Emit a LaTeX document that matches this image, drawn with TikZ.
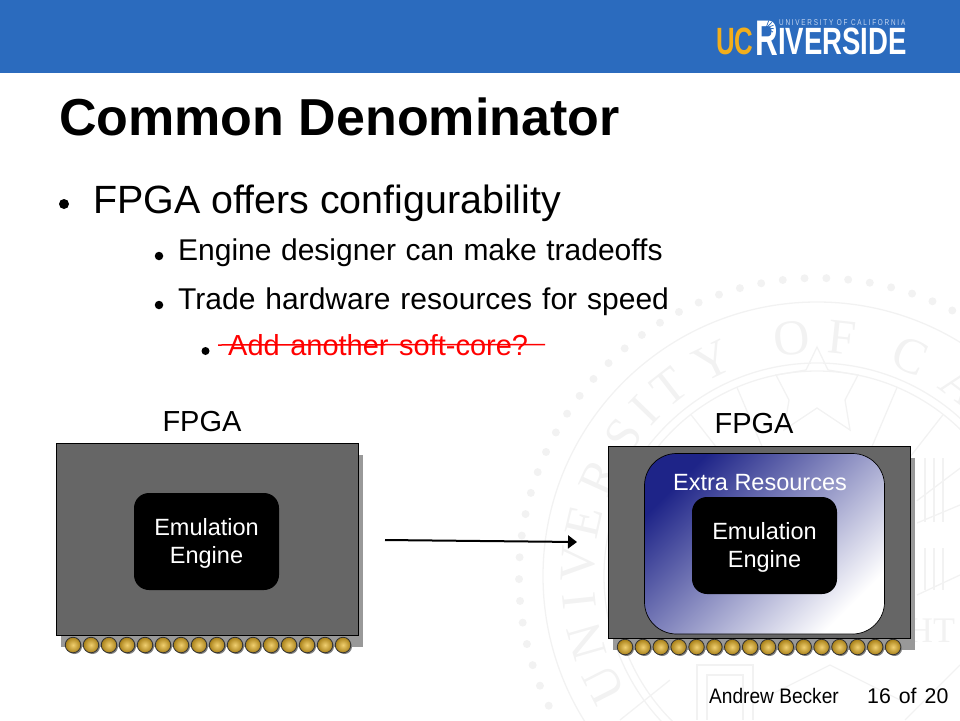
\documentclass[tikz,border=0pt]{standalone}
\usepackage{fontspec}
\setmainfont{Liberation Sans}
\newfontfamily\sealfont{Liberation Serif}
\usetikzlibrary{arrows.meta}
\definecolor{headblue}{HTML}{2B6BBE}
\definecolor{chipgray}{HTML}{666666}
\definecolor{shadowgray}{HTML}{999999}
\definecolor{pinlight}{HTML}{F0CF70}
\definecolor{pindark}{HTML}{A88018}
\definecolor{logogold}{HTML}{F2AE1C}
\definecolor{logopale}{HTML}{C5D6F0}
\definecolor{sealgray}{HTML}{F2F2F2}
\definecolor{extrablue}{HTML}{1E2488}
\newcommand\topgap{\rule{0pt}{21pt}}
\newcommand\widewords{\spaceskip=9.5pt\relax}
\tikzset{
	txt/.style={anchor=base west,inner sep=0pt,font=\fontsize{#1}{#1}\selectfont},
	mid/.style={anchor=base,inner sep=0pt,font=\fontsize{#1}{#1}\selectfont},
	chipbody/.style={draw=black,line width=1pt,fill=chipgray,minimum width=302pt,minimum height=191.5pt,inner sep=0pt},
	chipshadow/.style={fill=shadowgray,minimum width=302pt,minimum height=191.5pt,inner sep=0pt},
	engine/.style={fill=black,rounded corners=15pt,minimum width=145pt,minimum height=97pt,inner sep=0pt,text=white,align=center,font=\fontsize{23.5}{28.7}\selectfont},
	extra/.style={draw=black,line width=0.7pt,rounded corners=32pt,minimum width=240pt,minimum height=180.5pt,inner sep=0pt,top color=extrablue,bottom color=white,shading angle=45},
	pin/.style={circle,draw=black!80,line width=0.8pt,inner color=pinlight,outer color=pindark,minimum size=15.5pt,inner sep=0pt},
	pinshadow/.style={circle,fill=black!50,minimum size=15pt,inner sep=0pt},
	bullet/.style={circle,fill=black,inner sep=0pt,minimum size=#1},
	sealline/.style={draw=sealgray,line width=1.3pt},
}
\begin{document}
\begin{tikzpicture}[x=1pt,y=-1pt]
	\useasboundingbox (0,0) rectangle (960,720);
	\begin{scope}
		\clip (0,0) rectangle (960,720);
		\begin{scope}[shift={(817,576)},y=1pt]
			\draw[sealline] (0,0) circle (274);
			\draw[sealline] (0,0) circle (213);
			\draw[sealline] (0,0) circle (205);
			\foreach \a in {0,4.2,...,356}
				\fill[sealgray] (\a:298) circle (4);
			\foreach \ch/\a in {U/207,N/196,I/186,V/177,E/167,R/155.6,S/144,I/136,T/128,Y/116,O/96,F/84,C/67,A/53}
				\node[rotate=\a-90,anchor=base,inner sep=0pt,text=sealgray,font=\sealfont\fontsize{50}{50}\selectfont] at (\a:223) {\ch};
			\foreach \a in {37,52,67,113,128,143}
				\draw[sealline] (\a:125) -- (\a:205);
		\end{scope}
		\draw[sealline] (817,347)--(828,370)--(858,375)--(845,400)--(850,430)--(817,408)--(784,430)--(789,400)--(776,375)--(806,370)--cycle;
		\foreach \x in {925,934,943} {
			\draw[sealline] (\x,458) -- (\x,522);
			\draw[sealline] (\x,548) -- (\x,590);
		}
		\draw[sealline] (917,523) -- (960,505);
		\draw[sealline] (917,595) -- (960,575);
		\draw[sealline] (697,720) -- (697,665) -- (753,665) -- (753,720);
		\draw[sealline] (707,720) -- (707,675) -- (743,675) -- (743,720);
		\draw[sealline] (760,700) -- (830,665) -- (900,700);
		\draw[sealline] (620,720) -- (670,680);
		\draw[sealline] (960,665) -- (905,720);
		\node[mid=20,text=sealgray,font=\sealfont\fontsize{36}{36}\selectfont] (sealHT) at (931,642) {HT};
	\end{scope}
	\fill[headblue] (0,0) rectangle (960,73);
	\node[txt=38,text=logogold,font=\bfseries\fontsize{38}{38}\selectfont,xscale=0.68,transform shape] (logoUC) at (716,54) {UC};
	\node[txt=50,text=white,font=\bfseries\fontsize{50}{50}\selectfont,xscale=0.63,transform shape] (logoR) at (755,55) {R};
	\foreach \a in {-70,-45,...,80}
		\draw[headblue,line width=0.7pt] (766,28) -- ++(\a:8);
	\node[txt=38,text=white,font=\bfseries\fontsize{38}{38}\selectfont,xscale=0.725,transform shape] (logoRest) at (778,54) {IVERSIDE};
	\node[txt=8.5,text=logopale,xscale=0.75,transform shape] (logoUni) at (779,25) {U N I V E R S I T Y\ \ O F\ \ C A L I F O R N I A};
	\node[txt=52,font=\bfseries\fontsize{52}{52}\selectfont] (title) at (59,135) {Common Denominator};
	\node[bullet=10pt] (dotA) at (64,204) {};
	\node[txt=39.4] (lineA) at (93,213) {FPGA offers configurability};
	\node[bullet=8.5pt] (dotB) at (159,256) {};
	\node[txt=30] (lineB) at (178,260) {\widewords Engine designer can make tradeoffs};
	\node[bullet=8.5pt] (dotC) at (159,305) {};
	\node[txt=30] (lineC) at (178,309) {\spaceskip=10pt\relax Trade hardware resources for speed};
	\node[bullet=8pt] (dotD) at (205.5,351) {};
	\node[txt=29,text=red] (lineD) at (228,355) {\spaceskip=10.5pt\relax Add another soft-core?};
	\coordinate (strikeL) at (218,345);
	\coordinate (strikeR) at (545,344.5);
	\draw[red,line width=1.5pt] (strikeL) -- (strikeR);
	\node[mid=29] (fpgaA) at (202,431.5) {FPGA};
	\node[mid=29] (fpgaB) at (754,433.5) {FPGA};
	\node[chipshadow] (shadowA) at (211.5,551) {};
	\node[chipbody] (chipA) at (207.5,539.25) {};
	\foreach \i in {0,...,15} {
		\node[pinshadow] (pinshadowA\i) at (73+18*\i+1.5,646.5) {};
		\node[pin] (pinA\i) at (73+18*\i,645) {};
	}
	\node[engine] (engineA) at (206.5,541.5) {\topgap Emulation\\Engine};
	\node[chipshadow] (shadowB) at (764,554) {};
	\node[chipbody] (chipB) at (759.5,542.25) {};
	\foreach \i in {0,...,15} {
		\node[pinshadow] (pinshadowB\i) at (625+17.87*\i+1.5,648.5) {};
		\node[pin] (pinB\i) at (625+17.87*\i,647) {};
	}
	\node[extra] (extraB) at (764.5,543.75) {};
	\node[mid=23.5,text=white] (extraText) at (760,490) {Extra Resources};
	\node[engine] (engineB) at (764.5,545.5) {\topgap Emulation\\Engine};
	\coordinate (arrowL) at (385,540);
	\coordinate (arrowR) at (577,542);
	\draw[line width=2pt,-{Triangle[length=9pt,width=13pt]}] (arrowL) -- (arrowR);
	\node[txt=21,xscale=0.91,transform shape] (author) at (709,703) {Andrew Becker};
	\node[txt=21.3] (pageno) at (867,703) {\spaceskip=8pt 16 of 20};
\end{tikzpicture}
\end{document}
